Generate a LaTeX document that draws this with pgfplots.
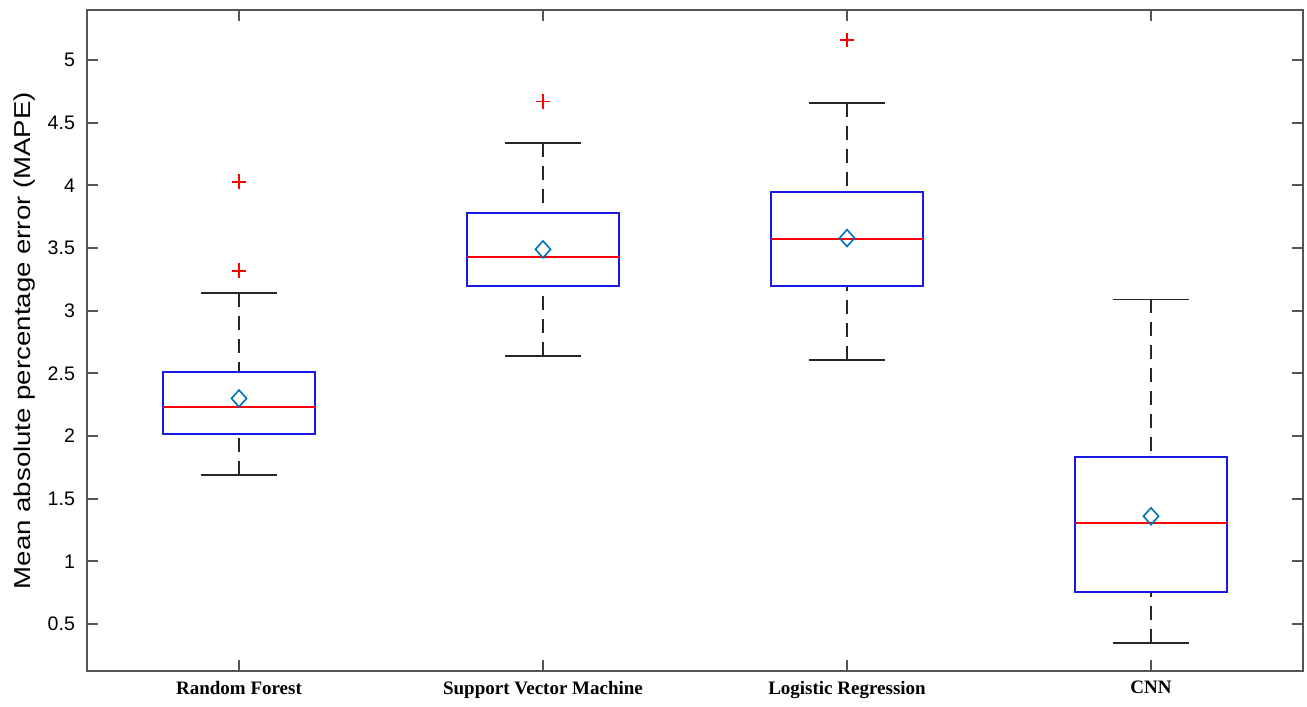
\documentclass[border=0pt]{standalone}
\usepackage{fontspec}
\setmainfont{Liberation Sans}
\newfontfamily\tnr{Liberation Serif}
\usepackage{graphicx}
\usepackage{pgfplots}
\pgfplotsset{compat=1.18}
\usepgfplotslibrary{statistics}
\definecolor{mblue}{RGB}{0,114,189}
\definecolor{boxblue}{RGB}{25,25,230}
\definecolor{axgray}{RGB}{85,85,85}

\pgfplotsset{
 boxplot/draw/lower whisker/.code={%
  \draw[black!85, line width=0.8pt, dash pattern=on 7pt off 4.5pt]
   (boxplot box cs:\pgfplotsboxplotvalue{lower whisker},0.5) -- (boxplot box cs:\pgfplotsboxplotvalue{lower quartile},0.5);
  \draw[black!85, line width=0.9pt]
   (boxplot whisker cs:\pgfplotsboxplotvalue{lower whisker},0) -- (boxplot whisker cs:\pgfplotsboxplotvalue{lower whisker},1);
 },
 boxplot/draw/upper whisker/.code={%
  \draw[black!85, line width=0.8pt, dash pattern=on 7pt off 4.5pt]
   (boxplot box cs:\pgfplotsboxplotvalue{upper whisker},0.5) -- (boxplot box cs:\pgfplotsboxplotvalue{upper quartile},0.5);
  \draw[black!85, line width=0.9pt]
   (boxplot whisker cs:\pgfplotsboxplotvalue{upper whisker},0) -- (boxplot whisker cs:\pgfplotsboxplotvalue{upper whisker},1);
 },
 mybox/.style={draw=boxblue, line width=1pt, mark=none,
   boxplot/draw direction=y,
   boxplot/every median/.style={draw=red, line width=1pt}},
}

\begin{document}
\begin{tikzpicture}
\begin{axis}[
 scale only axis, width=608pt, height=330.5pt,
 xmin=0.5, xmax=4.5, ymin=0.125, ymax=5.4,
 xtick={1,2,3,4},
 xticklabels={Random Forest, Support Vector Machine, Logistic Regression, CNN},
 ytick={0.5,1,1.5,2,2.5,3,3.5,4,4.5,5},
 yticklabels={0.5,1,1.5,2,2.5,3,3.5,4,4.5,5},
 tick align=inside, major tick length=5.5pt,
 tick style={axgray, line width=1pt},
 axis line style={axgray, line width=1pt},
 yticklabel style={font=\fontsize{9.8}{11}\selectfont, xshift=-2.5pt},
 xticklabel style={font=\fontsize{9.5}{11}\selectfont\tnr\bfseries, yshift=-1.5pt},
 ylabel={\scalebox{1.38}[1.15]{Mean absolute percentage error (MAPE)}},
 ylabel style={font=\fontsize{13.5}{15}\selectfont},
 every axis y label/.style={at={(axis description cs:0,0.5)}, xshift=-31pt, rotate=90, anchor=center},
 clip=false,
]
% Random Forest
\addplot[mybox, boxplot prepared={draw position=1, lower whisker=1.69, lower quartile=2.02, median=2.23, upper quartile=2.51, upper whisker=3.14, box extend=0.5, whisker extend=0.25}] coordinates {};
% SVM
\addplot[mybox, boxplot prepared={draw position=2, lower whisker=2.64, lower quartile=3.20, median=3.43, upper quartile=3.78, upper whisker=4.34, box extend=0.5, whisker extend=0.25}] coordinates {};
% Logistic Regression
\addplot[mybox, boxplot prepared={draw position=3, lower whisker=2.61, lower quartile=3.20, median=3.57, upper quartile=3.95, upper whisker=4.66, box extend=0.5, whisker extend=0.25}] coordinates {};
% CNN
\addplot[mybox, boxplot prepared={draw position=4, lower whisker=0.35, lower quartile=0.755, median=1.31, upper quartile=1.835, upper whisker=3.09, box extend=0.5, whisker extend=0.25}] coordinates {};
% means
\addplot[only marks, mark=diamond, mark size=4.2pt, mark options={draw=mblue, line width=0.8pt, fill=none, xscale=1.2}] coordinates {(1,2.30) (2,3.49) (3,3.58) (4,1.36)};
% outliers
\addplot[only marks, mark=+, mark size=3.6pt, mark options={draw=red, line width=0.9pt}] coordinates {(1,4.03) (1,3.32) (2,4.67) (3,5.16)};
\end{axis}
\pgfresetboundingbox
\useasboundingbox ([xshift=-43.5pt,yshift=-17.5pt]current axis.south west) rectangle ([xshift=2pt,yshift=5pt]current axis.north east);
\end{tikzpicture}
\end{document}
